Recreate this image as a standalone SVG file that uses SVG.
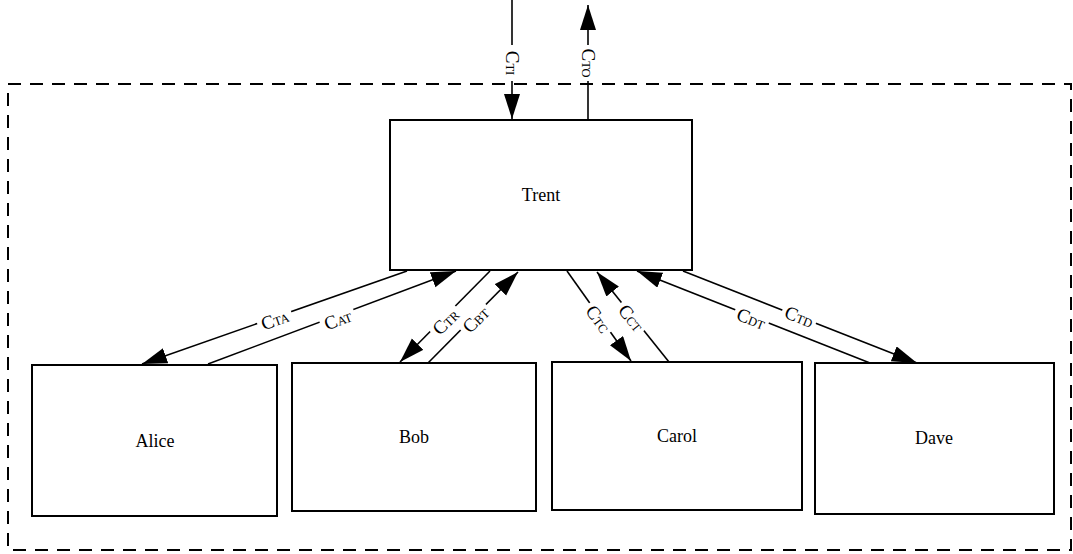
<svg xmlns="http://www.w3.org/2000/svg" width="1073" height="554" viewBox="0 0 1073 554">
<style>
.box{fill:#fff;stroke:#000;stroke-width:2}
.frame{fill:none;stroke:#000;stroke-width:2;stroke-dasharray:13 9}
.name{font-family:"Liberation Serif",serif;font-size:18px;fill:#000;text-anchor:middle}
.edge{fill:none;stroke:#000;stroke-width:1.6}
.lbl{font-family:"Liberation Serif",serif;font-size:19px;fill:#000;text-anchor:middle}
.sub{font-size:12.5px}
.bg{fill:#fff;stroke:none}
</style>
<defs>
<marker id="ah" markerUnits="userSpaceOnUse" markerWidth="26" markerHeight="18" refX="25" refY="8" orient="auto">
<path d="M0,0 L25,8 L0,16 Z" fill="#000"/>
</marker>
<rect id="lb" class="bg" x="-18" y="-9" width="36" height="17"/>
</defs>
<rect class="frame" x="8" y="84" width="1063" height="466"/>
<g id="trent"><rect class="box" x="390" y="120" width="302" height="150"/><text class="name" x="541" y="201">Trent</text></g>
<g id="alice"><rect class="box" x="32" y="365" width="245" height="151"/><text class="name" x="155" y="447">Alice</text></g>
<g id="bob"><rect class="box" x="292" y="363" width="244" height="148"/><text class="name" x="414" y="443">Bob</text></g>
<g id="carol"><rect class="box" x="552" y="362" width="250" height="148"/><text class="name" x="677" y="442">Carol</text></g>
<g id="dave"><rect class="box" x="815" y="363" width="239" height="151"/><text class="name" x="934" y="444">Dave</text></g>
<g id="connectors">
<line class="edge" x1="512" y1="0" x2="512" y2="119" marker-end="url(#ah)"/>
<line class="edge" x1="588" y1="120" x2="588" y2="5" marker-end="url(#ah)"/>
<line class="edge" x1="407" y1="271" x2="142" y2="364" marker-end="url(#ah)"/>
<line class="edge" x1="208" y1="364" x2="456" y2="271" marker-end="url(#ah)"/>
<line class="edge" x1="490" y1="271" x2="400" y2="362" marker-end="url(#ah)"/>
<line class="edge" x1="428" y1="363" x2="518" y2="272" marker-end="url(#ah)"/>
<line class="edge" x1="567" y1="271" x2="631" y2="361" marker-end="url(#ah)"/>
<line class="edge" x1="669" y1="362" x2="597" y2="272" marker-end="url(#ah)"/>
<line class="edge" x1="870" y1="363" x2="637" y2="271" marker-end="url(#ah)"/>
<line class="edge" x1="683" y1="271" x2="917" y2="363" marker-end="url(#ah)"/>
<g transform="translate(512,63) rotate(90)"><use href="#lb"/><text class="lbl" y="6">C<tspan class="sub">TI</tspan></text></g>
<g transform="translate(588,63) rotate(90)"><use href="#lb"/><text class="lbl" y="6">C<tspan class="sub">TO</tspan></text></g>
<g transform="translate(275,320) rotate(-19.5)"><use href="#lb"/><text class="lbl" y="6">C<tspan class="sub">TA</tspan></text></g>
<g transform="translate(338,320) rotate(-20.5)"><use href="#lb"/><text class="lbl" y="6">C<tspan class="sub">AT</tspan></text></g>
<g transform="translate(446,322) rotate(-45)"><use href="#lb"/><text class="lbl" y="6">C<tspan class="sub">TR</tspan></text></g>
<g transform="translate(476,320) rotate(-44.5)"><use href="#lb"/><text class="lbl" y="6">C<tspan class="sub">BT</tspan></text></g>
<g transform="translate(598,319) rotate(54)"><use href="#lb"/><text class="lbl" y="6">C<tspan class="sub">TC</tspan></text></g>
<g transform="translate(631,318) rotate(51)"><use href="#lb"/><text class="lbl" y="6">C<tspan class="sub">CT</tspan></text></g>
<g transform="translate(751,319) rotate(21.5)"><use href="#lb"/><text class="lbl" y="6">C<tspan class="sub">DT</tspan></text></g>
<g transform="translate(799,317) rotate(21.5)"><use href="#lb"/><text class="lbl" y="6">C<tspan class="sub">TD</tspan></text></g>
</g>
</svg>
